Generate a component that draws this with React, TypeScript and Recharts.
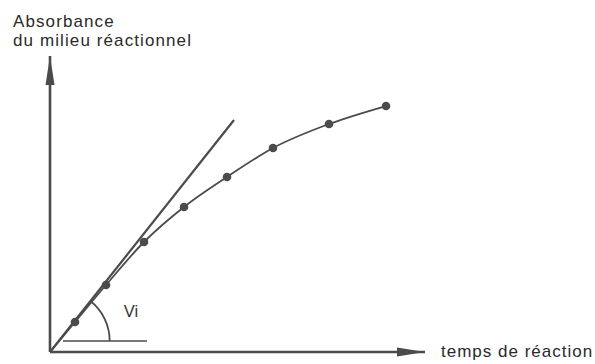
import { ComposedChart, Line, XAxis, YAxis, ReferenceLine, ReferenceDot } from 'recharts';

// reaction time (arbitrary units) and absorbance
const times = [0, 2.5, 5.6, 9.4, 13.4, 17.7, 22.3, 27.9, 33.6];
const absorbances = [0, 3.0, 6.7, 11.0, 14.5, 17.5, 20.4, 22.8, 24.6];

// initial-rate tangent drawn from the origin
const tangentX = [0, 18.4];
const tangentY = [0, 23.2];

// short horizontal reference for the angle Vi
const baseX = [1.3, 9.7];
const baseY = 1.1;

const xMax = 37.5;
const yMax = 29.6;

const ink = '#4d4a4c';

const data = times.map((t, i) => ({ t, a: absorbances[i] }));

const Dot = (props: any) => {
  const { cx, cy, index } = props;
  if (index === 0) return <g key={index} />;
  return <circle key={index} cx={cx} cy={cy} r={4.3} fill={ink} />;
};

const ArrowUp = (props: any) => {
  const { cx, cy } = props;
  return <path d={`M${cx},${cy} L${cx - 4.5},${cy + 29} L${cx + 4.5},${cy + 29} Z`} fill={ink} />;
};

const ArrowRight = (props: any) => {
  const { cx, cy } = props;
  return <path d={`M${cx},${cy} L${cx - 28},${cy - 4.5} L${cx - 28},${cy + 4.5} Z`} fill={ink} />;
};

// arc between the horizontal and the tangent, centred where they cross
const AngleArc = (props: any) => {
  const { cx, cy } = props;
  const r = 51;
  const ang = Math.atan2(tangentY[1], tangentX[1]);
  const ex = cx + r * Math.cos(ang);
  const ey = cy - r * Math.sin(ang);
  return (
    <g>
      <path d={`M${cx + r},${cy} A${r},${r} 0 0 0 ${ex},${ey}`} fill="none" stroke={ink} strokeWidth={1.8} />
      <text x={cx + 65} y={cy - 24} fontSize={16.5} fill="#333" fontFamily="Liberation Sans, Arial, sans-serif">
        Vi
      </text>
    </g>
  );
};

export default function App() {
  const crossX = (baseY * tangentX[1]) / tangentY[1];
  return (
    <div style={{ position: 'absolute', left: 0, top: 0, width: 595, height: 364, background: '#fff' }}>
      <ComposedChart
        width={595}
        height={364}
        data={data}
        margin={{ top: 56, right: 170, bottom: 12, left: 50 }}
      >
        <XAxis type="number" dataKey="t" domain={[0, xMax]} hide />
        <YAxis type="number" domain={[0, yMax]} hide />
        <ReferenceLine y={0} stroke={ink} strokeWidth={2.6} ifOverflow="visible" />
        <ReferenceLine x={0} stroke={ink} strokeWidth={2.6} ifOverflow="visible" />
        <ReferenceDot x={0} y={yMax} shape={ArrowUp} ifOverflow="visible" />
        <ReferenceDot x={xMax} y={0} shape={ArrowRight} ifOverflow="visible" />
        <ReferenceLine
          segment={[{ x: tangentX[0], y: tangentY[0] }, { x: tangentX[1], y: tangentY[1] }]}
          stroke={ink}
          strokeWidth={2.2}
          ifOverflow="visible"
        />
        <ReferenceLine
          segment={[{ x: baseX[0], y: baseY }, { x: baseX[1], y: baseY }]}
          stroke={ink}
          strokeWidth={1.6}
          ifOverflow="visible"
        />
        <ReferenceDot x={crossX} y={baseY} shape={AngleArc} ifOverflow="visible" />
        <Line
          type="monotone"
          dataKey="a"
          stroke={ink}
          strokeWidth={1.8}
          dot={Dot}
          activeDot={false}
          isAnimationActive={false}
        />
      </ComposedChart>
      <svg
        width={595}
        height={364}
        style={{ position: 'absolute', left: 0, top: 0, pointerEvents: 'none' }}
        fontFamily="Liberation Sans, Arial, sans-serif"
        fill="#2a2a2a"
      >
        <text x={13} y={27} fontSize={17} letterSpacing={1.1}>Absorbance</text>
        <text x={13} y={46} fontSize={17} letterSpacing={1.1}>du milieu réactionnel</text>
        <text x={441} y={357} fontSize={17} letterSpacing={1}>temps de réaction</text>
      </svg>
    </div>
  );
}
